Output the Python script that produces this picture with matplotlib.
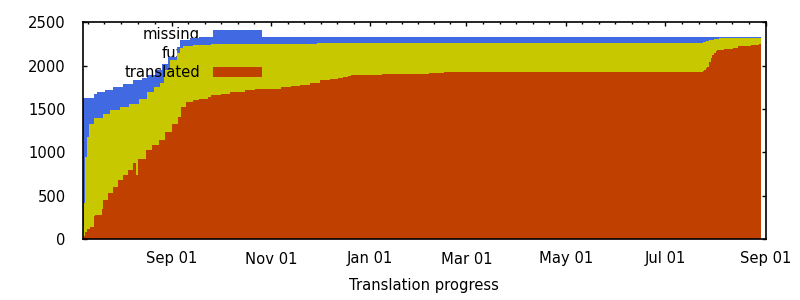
import matplotlib
matplotlib.use("Agg")
import matplotlib.pyplot as plt
import matplotlib.dates as mdates
from matplotlib.patches import Rectangle
import numpy as np
import pandas as pd

# ---- data (step series; value holds from its date until the next one) ----
total_dates = ["2009-07-08", "2009-07-15", "2009-07-17", "2009-07-22", "2009-07-27",
               "2009-08-02", "2009-08-08", "2009-08-14", "2009-08-17", "2009-08-22",
               "2009-08-26", "2009-08-30", "2009-09-04", "2009-09-06", "2009-09-12",
               "2009-09-18", "2010-08-29"]
total_strings = [1632, 1670, 1697, 1724, 1755, 1793, 1832, 1862, 1889, 1947,
                 2024, 2100, 2215, 2292, 2315, 2325, 2325]

fuzzy_dates = ["2009-07-08", "2009-07-09", "2009-07-10", "2009-07-11", "2009-07-12",
               "2009-07-15", "2009-07-21", "2009-07-25", "2009-07-31", "2009-08-06",
               "2009-08-12", "2009-08-17", "2009-08-21", "2009-08-25", "2009-08-27",
               "2009-08-28", "2009-08-31", "2009-09-04", "2009-09-06", "2009-09-08",
               "2009-09-14", "2009-09-25", "2009-10-07", "2009-11-29", "2010-07-24",
               "2010-07-26", "2010-07-28", "2010-07-31", "2010-08-03", "2010-08-29"]
translated_or_fuzzy = [150, 420, 950, 1180, 1332, 1395, 1440, 1494, 1524, 1563,
                       1620, 1697, 1755, 1800, 1880, 1947, 2062, 2143, 2200, 2223,
                       2235, 2246, 2252, 2258, 2270, 2281, 2293, 2304, 2316, 2316]

translated_dates = ["2009-07-08", "2009-07-09", "2009-07-10", "2009-07-11", "2009-07-13",
                    "2009-07-15", "2009-07-16", "2009-07-20", "2009-07-21", "2009-07-24",
                    "2009-07-27", "2009-07-30", "2009-08-02", "2009-08-05", "2009-08-08",
                    "2009-08-10", "2009-08-11", "2009-08-16", "2009-08-20", "2009-08-24",
                    "2009-08-28", "2009-09-01", "2009-09-05", "2009-09-07", "2009-09-10",
                    "2009-09-14", "2009-09-18", "2009-09-23", "2009-09-25", "2009-10-01",
                    "2009-10-07", "2009-10-16", "2009-10-22", "2009-11-07", "2009-11-13",
                    "2009-11-19", "2009-11-25", "2009-12-01", "2009-12-07", "2009-12-12",
                    "2009-12-15", "2009-12-18", "2009-12-20", "2010-01-08", "2010-02-06",
                    "2010-02-15", "2010-07-24", "2010-07-25", "2010-07-26", "2010-07-27",
                    "2010-07-28", "2010-07-29", "2010-07-30", "2010-07-31", "2010-08-01",
                    "2010-08-02", "2010-08-06", "2010-08-12", "2010-08-15", "2010-08-23",
                    "2010-08-28", "2010-08-29"]
translated = [10, 40, 80, 110, 140, 260, 280, 350, 449, 526,
              603, 680, 737, 795, 872, 737, 922, 1025, 1083, 1140,
              1236, 1332, 1409, 1524, 1582, 1601, 1613, 1640, 1659, 1678,
              1697, 1716, 1736, 1755, 1766, 1782, 1805, 1832, 1843, 1855,
              1866, 1878, 1889, 1901, 1912, 1924, 1935, 1947, 1970, 1989,
              2045, 2085, 2120, 2150, 2170, 2185, 2197, 2204, 2223, 2235,
              2255, 2255]

series_labels = ["missing", "fuzzy", "translated"]
colors = ["#4169E1", "#C8C800", "#C04000"]

x_start = "2009-07-08 08:00"
x_end = "2010-09-01"

# ---- figure ----
W, H = 800, 300
fig = plt.figure(figsize=(8, 3), dpi=100)
ax = fig.add_axes([82.7 / W, 61 / H, (766 - 82.7) / W, (239 - 22.3) / H])
ax.set_axisbelow(True)

FS = 10.6
layers = [
    (pd.to_datetime(total_dates), total_strings),
    (pd.to_datetime(fuzzy_dates), translated_or_fuzzy),
    (pd.to_datetime(translated_dates), translated),
]

# stacking order reproduces how the key entries are partly hidden by the areas
key_y = [35, 53.6, 72.2]
text_z = [1.00, 1.05, 1.60]
area_z = [1.10, 1.40, 1.70]
for i, ((d, v), lab, col) in enumerate(zip(layers, series_labels, colors)):
    ax.text(200 / W, 1 - key_y[i] / H, lab, transform=fig.transFigure,
            ha="right", va="center", fontsize=FS, color="black", zorder=text_z[i])
    ax.add_patch(Rectangle((213 / W, 1 - (key_y[i] + 5) / H), 49 / W, 10 / H,
                           transform=fig.transFigure, facecolor=col,
                           edgecolor="none", zorder=text_z[i] + 0.01))
    ax.fill_between(d, 0, v, step="post", color=col, linewidth=0,
                    antialiased=False, zorder=area_z[i])

ax.set_xlim(pd.Timestamp(x_start), pd.Timestamp(x_end))
ax.set_ylim(0, 2500)
ax.set_yticks(np.arange(0, 2501, 500))

ax.xaxis.set_major_locator(mdates.MonthLocator(bymonth=[1, 3, 5, 7, 9, 11]))
ax.xaxis.set_major_formatter(mdates.DateFormatter("%b %d"))
majors = pd.date_range("2009-07-01", "2010-09-01", freq="2MS")
mnum = mdates.date2num(majors.to_pydatetime())
minor = []
for a, b in zip(mnum[:-1], mnum[1:]):
    minor.extend(np.linspace(a, b, 7)[1:-1])
ax.set_xticks(minor, minor=True)

ax.tick_params(axis="x", which="both", direction="in", bottom=False, top=True,
               labelbottom=True, pad=9.0, labelsize=FS)
ax.tick_params(axis="x", which="major", length=3, width=1)
ax.tick_params(axis="x", which="minor", length=1.6, width=1)
ax.tick_params(axis="y", which="major", direction="in", left=True, right=True,
               length=3, width=1, pad=12.2, labelsize=FS)

for s in ax.spines.values():
    s.set_linewidth(1.2)
    s.set_color("black")

ax.set_xlabel("Translation progress", fontsize=FS, labelpad=8)

fig.savefig("out.png", dpi=100)
